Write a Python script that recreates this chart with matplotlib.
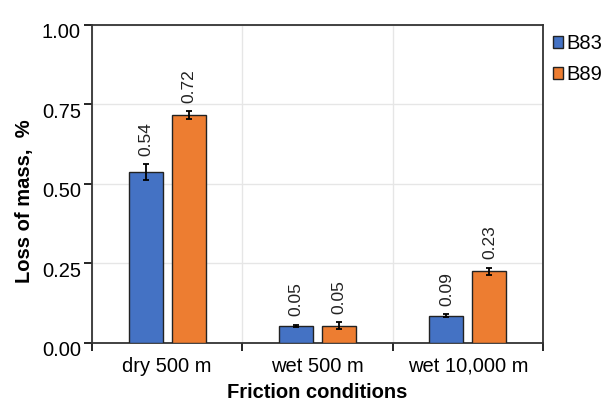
import numpy as np
import matplotlib.pyplot as plt
from matplotlib.transforms import ScaledTranslation

plt.rcParams['font.family'] = ['Liberation Sans', 'DejaVu Sans']

conditions = ['dry 500 m', 'wet 500 m', 'wet 10,000 m']
b83 = [0.537, 0.054, 0.086]
b89 = [0.716, 0.054, 0.226]
b83_err = [0.026, 0.003, 0.004]
b89_err = [0.012, 0.011, 0.011]
b83_lbl = ['0.54', '0.05', '0.09']
b89_lbl = ['0.72', '0.05', '0.23']

fig = plt.figure(figsize=(6.03, 4.03), dpi=100)
ax = fig.add_axes([0.1526, 0.149, 0.748, 0.789])

x = np.arange(len(conditions))
w = 0.225
off = 0.143

bars1 = ax.bar(x - off, b83, w, color='#4472C4', edgecolor='#222222', linewidth=1.0,
               yerr=b83_err, capsize=2.5, error_kw=dict(elinewidth=1.3, capthick=1.3, ecolor='black'),
               label='B83', zorder=3)
bars2 = ax.bar(x + off, b89, w, color='#ED7D31', edgecolor='#222222', linewidth=1.0,
               yerr=b89_err, capsize=2.5, error_kw=dict(elinewidth=1.3, capthick=1.3, ecolor='black'),
               label='B89', zorder=3)

# value labels above error bars
for xs, vals, errs, lbls in [(x - off, b83, b83_err, b83_lbl), (x + off, b89, b89_err, b89_lbl)]:
    for xi, v, e, t in zip(xs, vals, errs, lbls):
        ax.annotate(t, (xi, v + e), xytext=(0, 6), textcoords='offset points',
                    rotation=90, ha='center', va='bottom', fontsize=12.5, color='#222222')

ax.set_xlim(-0.5, 2.5)
ax.set_ylim(0, 1.0)
ax.set_yticks([0, 0.25, 0.5, 0.75, 1.0])
ax.set_yticklabels(['0.00', '0.25', '0.50', '0.75', '1.00'], fontsize=14.5)
ax.set_xticks(x)
ax.set_xticklabels(conditions, fontsize=14.5)
ax.set_xticks([-0.5, 0.5, 1.5, 2.5], minor=True)
ax.tick_params(axis='x', which='major', length=0, pad=10)
ax.tick_params(axis='x', which='minor', length=6, width=1.2)
ax.tick_params(axis='y', length=6, width=1.2, pad=2)

# y tick labels sit a little below their ticks in the original
for lbl in ax.get_yticklabels():
    lbl.set_transform(lbl.get_transform() + ScaledTranslation(0, -4 / 72, fig.dpi_scale_trans))

ax.grid(True, axis='y', color='#e6e6e6', linewidth=1.0, zorder=0)
ax.grid(True, axis='x', which='minor', color='#e6e6e6', linewidth=1.0, zorder=0)
for s in ax.spines.values():
    s.set_linewidth(1.3)
    s.set_color('#333333')

ax.set_xlabel('Friction conditions', fontsize=14.5, fontweight='bold', labelpad=5)
ax.set_ylabel('Loss of mass,  %', fontsize=14.5, fontweight='bold')
ax.yaxis.set_label_coords(-0.128, 0.447)

fig.legend(handles=[bars1, bars2], labels=['B83', 'B89'], loc='upper left',
           bbox_to_anchor=(553 / 603, 0.915), bbox_transform=fig.transFigure,
           frameon=False, fontsize=14.5, handlelength=0.5, handleheight=0.5,
           handletextpad=0.15, labelspacing=0.6, borderaxespad=0, borderpad=0)

fig.savefig('out.png', dpi=100)
